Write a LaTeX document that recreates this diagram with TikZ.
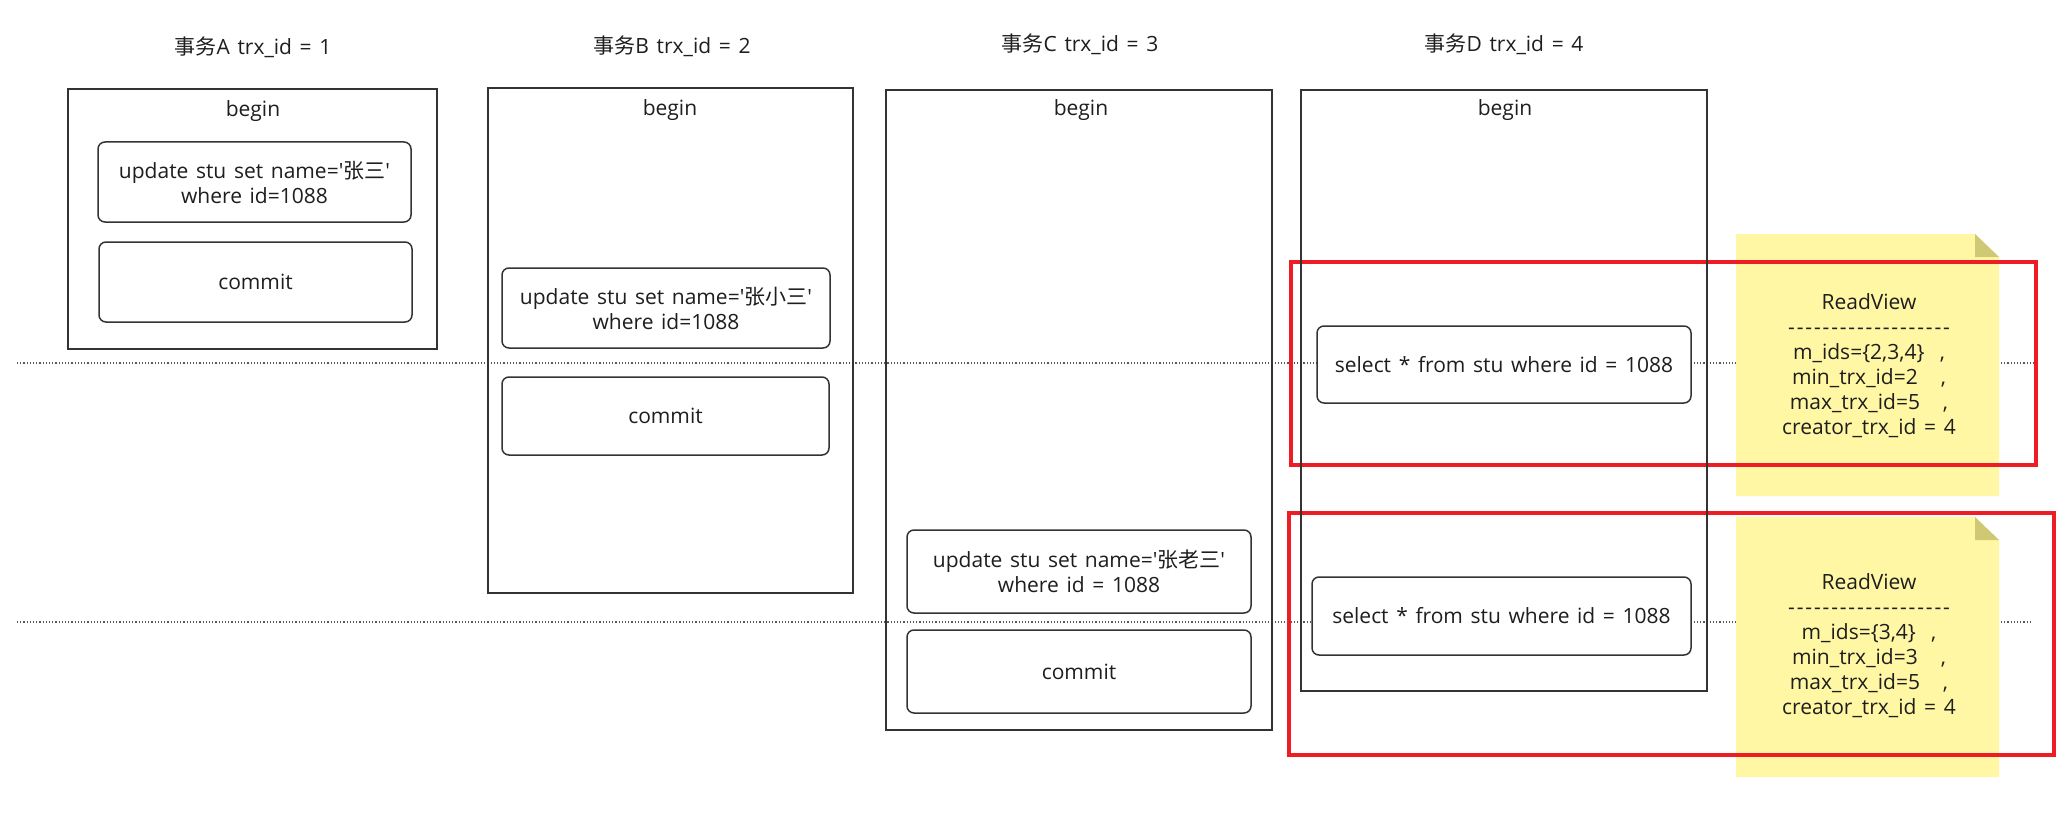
\documentclass[tikz,border=0pt]{standalone}
\usepackage{fontspec}
\setmainfont{Open Sans}[WordSpace=1.4]
\newfontfamily\cjk{Noto Sans CJK SC}
\definecolor{textc}{HTML}{1E1E1E}
\definecolor{linec}{HTML}{333333}
\definecolor{redc}{HTML}{EE1C25}
\definecolor{notec}{HTML}{FFF7A3}
\definecolor{foldc}{HTML}{CFC874}
\definecolor{dotc}{HTML}{555555}
\newcommand{\q}{\textquotesingle}
\newcommand{\hy}{\makebox[8.6pt]{-}}
\newcommand{\dashrow}{\hy\hy\hy\hy\hy\hy\hy\hy\hy\hy\hy\hy\hy\hy\hy\hy\hy\hy\hy}
\tikzset{
  txt/.style={font=\fontsize{21}{25}\selectfont, text=textc, inner sep=0pt},
  bigbox/.style={draw=linec, line width=1.5pt, rectangle, inner sep=0pt},
  stepbox/.style={draw=linec, line width=1.5pt, rounded corners=7pt, fill=white,
    align=center, font=\fontsize{21}{25}\selectfont, text=textc, inner sep=0pt},
  redbox/.style={draw=redc, line width=4pt, rectangle, inner sep=0pt},
  timeline/.style={draw=dotc, line width=1.2pt, dotted},
}
\begin{document}
\begin{tikzpicture}[x=1pt,y=-1pt]
\useasboundingbox (0,0) rectangle (2067,832);
\fill[white] (0,0) rectangle (2067,832);

% timelines
\coordinate (l1s) at (17,363);
\coordinate (l1e) at (2035,363);
\coordinate (l2s) at (17,622);
\coordinate (l2e) at (2032,622);
\draw[timeline] (l1s) -- (l1e);
\draw[timeline] (l2s) -- (l2e);

% titles
\node[txt, anchor=base] (tA) at (253,55) {{\cjk 事务}A trx\_id = 1};
\node[txt, anchor=base] (tB) at (672,54) {{\cjk 事务}B trx\_id = 2};
\node[txt, anchor=base] (tC) at (1080,52) {{\cjk 事务}C trx\_id = 3};
\node[txt, anchor=base] (tD) at (1504,52) {{\cjk 事务}D trx\_id = 4};

% notes
\fill[notec] (1736,234) -- (1975,234) -- (1999,257) -- (1999,496) -- (1736,496) -- cycle;
\fill[foldc] (1975,234) -- (1999,257) -- (1975,257) -- cycle;
\fill[notec] (1736,517) -- (1975,517) -- (1999,540) -- (1999,777) -- (1736,777) -- cycle;
\fill[foldc] (1975,517) -- (1999,540) -- (1975,540) -- cycle;
\node[txt, align=center] (rv1) at (1869,366) {ReadView\\ \dashrow\\ m\_ids=\{2,3,4\}~~,\\ min\_trx\_id=2~~~,\\ max\_trx\_id=5~~~,\\ creator\_trx\_id = 4};
\node[txt, align=center] (rv2) at (1869,646) {ReadView\\ \dashrow\\ m\_ids=\{3,4\}~~,\\ min\_trx\_id=3~~~,\\ max\_trx\_id=5~~~,\\ creator\_trx\_id = 4};

% red highlight boxes
\node[redbox, minimum width=745pt, minimum height=203pt] (r1) at (1663.5,363.5) {};
\node[redbox, minimum width=765pt, minimum height=242pt] (r2) at (1671.5,634) {};

% transaction boxes
\node[bigbox, minimum width=369pt, minimum height=260pt] (bxA) at (252.5,219) {};
\node[bigbox, minimum width=365pt, minimum height=505pt] (bxB) at (670.5,340.5) {};
\node[bigbox, minimum width=386pt, minimum height=640pt] (bxC) at (1079,410) {};
\node[bigbox, minimum width=406pt, minimum height=601pt] (bxD) at (1504,390.5) {};

\node[txt, anchor=base] (bgA) at (253,117) {begin};
\node[txt, anchor=base] (bgB) at (670,116) {begin};
\node[txt, anchor=base] (bgC) at (1081,116) {begin};
\node[txt, anchor=base] (bgD) at (1505,116) {begin};

% steps
\node[stepbox, minimum width=313pt, minimum height=80pt] (uA) at (254.5,182) {update stu set name=\q{\cjk 张三}\q\\ where id=1088};
\node[stepbox, minimum width=313pt, minimum height=80pt] (cA) at (255.5,282) {commit};
\node[stepbox, minimum width=328pt, minimum height=80pt] (uB) at (666,308) {update stu set name=\q{\cjk 张小三}\q\\ where id=1088};
\node[stepbox, minimum width=327pt, minimum height=78pt] (cB) at (665.5,416) {commit};
\node[stepbox, minimum width=344pt, minimum height=83pt] (uC) at (1079,571.5) {update stu set name=\q{\cjk 张老三}\q\\ where id = 1088};
\node[stepbox, minimum width=344pt, minimum height=83pt] (cC) at (1079,671.5) {commit};
\node[stepbox, minimum width=374pt, minimum height=77pt] (sD1) at (1504,364.5) {select * from stu where id = 1088};
\node[stepbox, minimum width=379pt, minimum height=78pt] (sD2) at (1501.5,616) {select * from stu where id = 1088};
\end{tikzpicture}
\end{document}
